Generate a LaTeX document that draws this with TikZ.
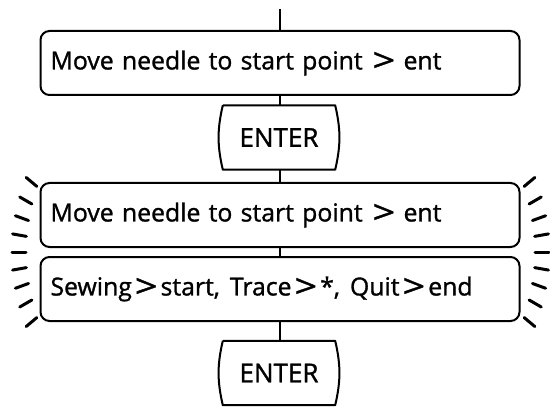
\documentclass[tikz,border=0pt]{standalone}
\usepackage{fontspec}
\setmainfont{Open Sans}
\newfontfamily\promptfont[FakeBold=1.2]{Open Sans}
\usepackage{tikz}
\usetikzlibrary{calc}
\newcommand{\gtsign}{\raisebox{-2.2pt}{\scalebox{1.6}[1.3]{>}}}
\newcommand{\gtpad}{\hspace{3pt}\gtsign\hspace{3pt}}

\begin{document}
\begin{tikzpicture}[
        x=1pt, y=1pt,
        display/.style={rectangle, draw=black, line width=2pt, rounded corners=9pt, minimum width=479pt, minimum height=64pt, text width=459pt, inner xsep=10pt, align=left, font=\promptfont\fontsize{24.8}{30}\selectfont},
        key/.style={rectangle, draw=none, minimum width=112pt, minimum height=64pt, text centered, font=\promptfont\fontsize{26}{30}\selectfont,
            append after command={\pgfextra{\draw[line width=2pt, line join=round] (\tikzlastnode.north west) -- (\tikzlastnode.north east) to[bend left=13] (\tikzlastnode.south east) -- (\tikzlastnode.south west) to[bend left=13] (\tikzlastnode.north west);}}},
        link/.style={line width=2pt},
        ray/.style={line width=3pt, line cap=round}
    ]
        \useasboundingbox (0,0) rectangle (550,408);

        % First prompt
        \coordinate (feed_in) at (280, 399);
        \node[display] (prompt_move) at (280, 345) {Move needle to start point\hspace{10pt}\gtsign\ ent};
        \node[key] (key_enter1) at (279, 270.5) {ENTER};

        % Flashing prompts
        \node[display] (prompt_move2) at (280, 193) {Move needle to start point\hspace{10pt}\gtsign\ ent};
        \node[display] (prompt_menu) at (280, 119) {Sewing\gtpad start,\hspace{10pt}Trace\gtpad*,\hspace{10pt}Quit\gtpad end};
        \node[key] (key_enter2) at (279, 35) {ENTER};

        % Connections
        \draw[link] (feed_in) -- (prompt_move.north);
        \draw[link] (prompt_move.south) -- (prompt_move.south |- key_enter1.north);
        \draw[link] (prompt_move.south |- key_enter1.south) -- (prompt_move2.north);
        \draw[link] (prompt_move2.south) -- (prompt_menu.north);
        \draw[link] (prompt_menu.south) -- (prompt_menu.south |- key_enter2.north);

        % Flash marks
        \coordinate (flash_l) at (115, 156);
        \coordinate (flash_r) at (446, 156);
        \foreach \a/\r in {140/102, 150/96, 160/92, 170/90, 180/89, 190/90, 200/92, 210/96, 220/102}
            \draw[ray] ($(flash_l)+(\a:\r)$) -- ++(\a:14);
        \foreach \a/\r in {40/102, 30/96, 20/92, 10/90, 0/89, -10/90, -20/92, -30/96, -40/102}
            \draw[ray] ($(flash_r)+(\a:\r)$) -- ++(\a:14);

    \end{tikzpicture}
\end{document}
